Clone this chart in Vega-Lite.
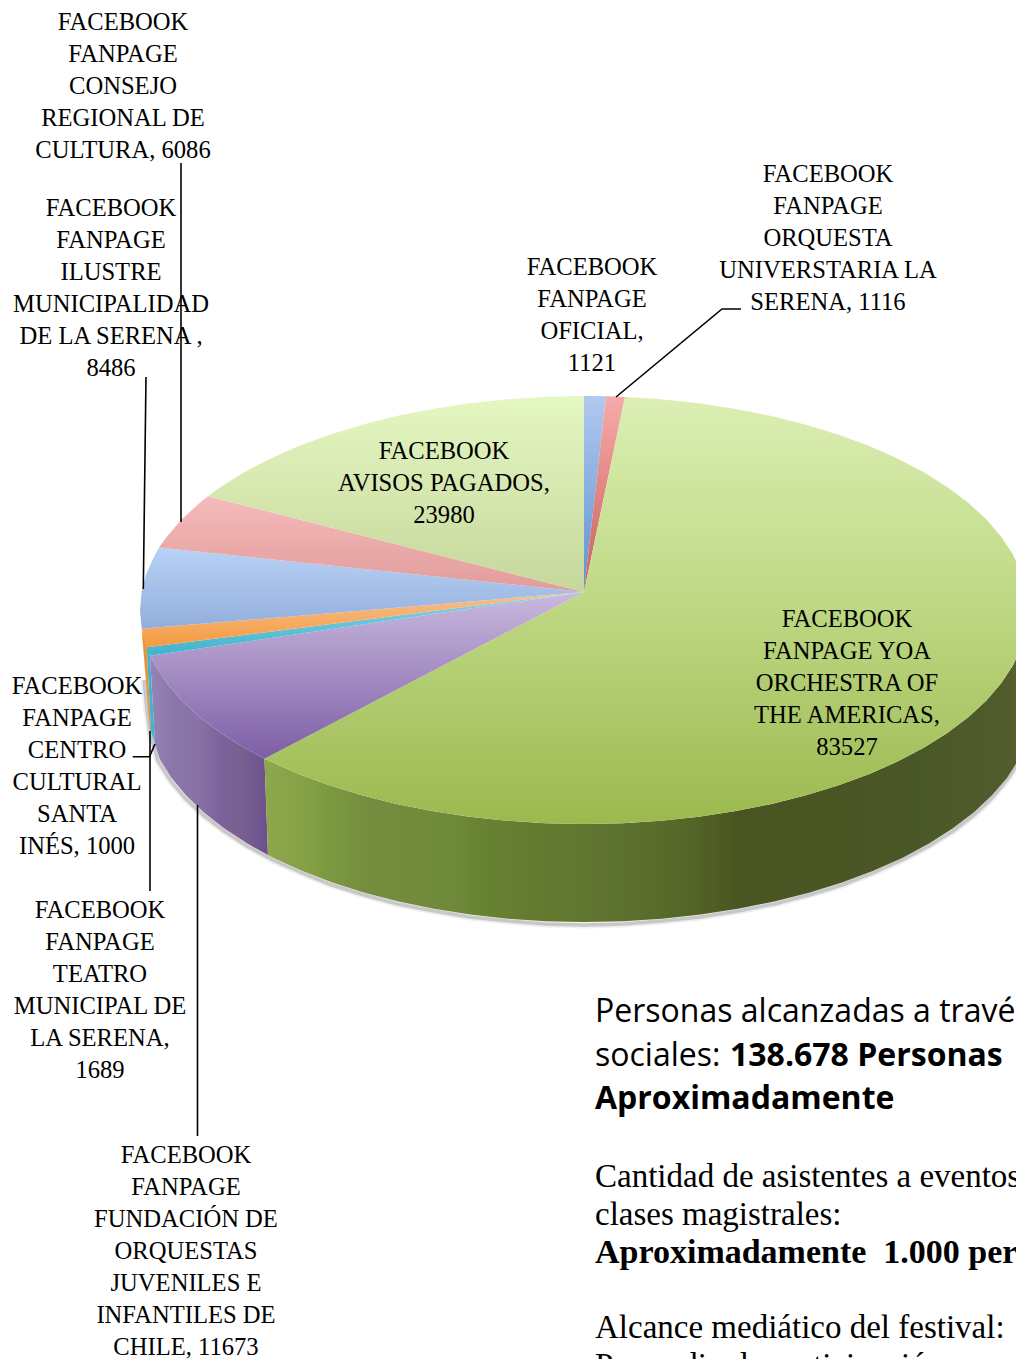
{
"$schema":"https://vega.github.io/schema/vega-lite/v6.json",
"width":1016,"height":1359,"autosize":{"type":"none"},"padding":0,"background":"white",
"view":{"stroke":null},
"projection":{"type":"identity","scale":1,"translate":[0,0]},
"datasets":{
"piezas":[
{"type":"Feature","properties":{"pieza":"lado naranja"},"geometry":{"type":"Polygon","coordinates":[[[141.7,630],[146.7,646],[151,731],[150,730],[141.7,630]]]}},
{"type":"Feature","properties":{"pieza":"lado turquesa"},"geometry":{"type":"Polygon","coordinates":[[[146.7,646],[150,655.7],[155,744],[151,731],[146.7,646]]]}},
{"type":"Feature","properties":{"pieza":"lado morado"},"geometry":{"type":"Polygon","coordinates":[[[150,655.7],[155.1,665.4],[166.8,683.2],[181.6,700.4],[199.5,717],[220.3,732.8],[243.9,747.6],[264.5,758.7],[268,855],[247.7,843.8],[224.4,828.6],[203.8,812.5],[186.1,795.6],[171.5,777.9],[160,759.7],[155,744],[150,655.7]]]}},
{"type":"Feature","properties":{"pieza":"lado verde"},"geometry":{"type":"Polygon","coordinates":[[[1028,610],[1026.3,628.7],[1021.3,647.2],[1012.9,665.4],[1001.2,683.2],[986.4,700.4],[968.5,717],[947.7,732.8],[924.1,747.6],[898,761.3],[869.4,773.9],[838.7,785.3],[806,795.3],[771.6,803.9],[735.8,811.1],[698.9,816.7],[661.1,820.7],[622.7,823.2],[584,824],[545.3,823.2],[506.9,820.7],[469.1,816.7],[432.2,811.1],[396.4,803.9],[362,795.3],[329.3,785.3],[298.6,773.9],[270,761.3],[264.5,758.7],[268,855],[273.6,857.9],[301.8,870.8],[332.2,882.4],[364.5,892.7],[398.5,901.5],[433.9,908.8],[470.4,914.5],[507.8,918.7],[545.7,921.2],[584,922],[623.2,921.2],[662.1,918.7],[700.5,914.5],[737.9,908.8],[774.2,901.5],[809,892.7],[842.1,882.4],[873.3,870.8],[902.2,857.9],[928.7,843.8],[952.6,828.6],[973.7,812.5],[991.8,795.6],[1006.9,777.9],[1018.7,759.7],[1027.2,741],[1032.3,722.1],[1034,703],[1028,610]]]}},
{"type":"Feature","properties":{"pieza":"OFICIAL","valor":1121},"geometry":{"type":"Polygon","coordinates":[[[584,592],[584,396],[595,396.1],[606,396.3],[584,592]]]}},
{"type":"Feature","properties":{"pieza":"ORQUESTA UNIVERSITARIA","valor":1116},"geometry":{"type":"Polygon","coordinates":[[[584,592],[606,396.3],[615,396.5],[625,396.9],[584,592]]]}},
{"type":"Feature","properties":{"pieza":"YOA","valor":83527},"geometry":{"type":"Polygon","coordinates":[[[584,592],[625,396.9],[661.1,399.3],[698.9,403.3],[735.8,408.9],[771.6,416.1],[806,424.7],[838.7,434.7],[869.4,446.1],[898,458.7],[924.1,472.4],[947.7,487.2],[968.5,503],[986.4,519.6],[1001.2,536.8],[1012.9,554.6],[1021.3,572.8],[1026.3,591.3],[1028,610],[1026.3,628.7],[1021.3,647.2],[1012.9,665.4],[1001.2,683.2],[986.4,700.4],[968.5,717],[947.7,732.8],[924.1,747.6],[898,761.3],[869.4,773.9],[838.7,785.3],[806,795.3],[771.6,803.9],[735.8,811.1],[698.9,816.7],[661.1,820.7],[622.7,823.2],[584,824],[545.3,823.2],[506.9,820.7],[469.1,816.7],[432.2,811.1],[396.4,803.9],[362,795.3],[329.3,785.3],[298.6,773.9],[270,761.3],[264.5,758.7],[584,592]]]}},
{"type":"Feature","properties":{"pieza":"FUNDACION","valor":11673},"geometry":{"type":"Polygon","coordinates":[[[584,592],[264.5,758.7],[243.9,747.6],[220.3,732.8],[199.5,717],[181.6,700.4],[166.8,683.2],[155.1,665.4],[150,655.7],[584,592]]]}},
{"type":"Feature","properties":{"pieza":"TEATRO","valor":1689},"geometry":{"type":"Polygon","coordinates":[[[584,592],[150,655.7],[146.7,647.2],[584,592]]]}},
{"type":"Feature","properties":{"pieza":"SANTA INES","valor":1000},"geometry":{"type":"Polygon","coordinates":[[[584,592],[146.7,647.2],[143.7,638],[141.7,628.7],[584,592]]]}},
{"type":"Feature","properties":{"pieza":"ILUSTRE","valor":8486},"geometry":{"type":"Polygon","coordinates":[[[584,592],[141.7,628.7],[140,610],[141.7,591.3],[146.7,572.8],[155.1,554.6],[159,547.5],[584,592]]]}},
{"type":"Feature","properties":{"pieza":"CONSEJO","valor":6086},"geometry":{"type":"Polygon","coordinates":[[[584,592],[159,547.5],[166.8,536.8],[181.6,519.6],[199.5,503],[208,496.2],[584,592]]]}},
{"type":"Feature","properties":{"pieza":"AVISOS","valor":23980},"geometry":{"type":"Polygon","coordinates":[[[584,592],[208,496.2],[220.3,487.2],[243.9,472.4],[270,458.7],[298.6,446.1],[329.3,434.7],[362,424.7],[396.4,416.1],[432.2,408.9],[469.1,403.3],[506.9,399.3],[545.3,396.8],[584,396],[584,592]]]}}
],
"sombra":[
{"type":"Feature","properties":{"n":"sombra"},"geometry":{"type":"LineString","coordinates":[[144,680],[147,710],[150,733],[158,761],[170,780],[185,798],[203,815],[224,831],[247,846],[273,860],[302,873],[332,885],[364,895],[398,904],[434,911],[470,917],[508,921],[546,924],[584,925],[623,924],[662,921],[700,917],[738,911],[774,904],[809,895],[842,885],[873,873],[902,860],[929,846],[953,831],[974,815],[992,798],[1007,780],[1019,762]]}}
],
"guias":[
{"type":"Feature","properties":{"n":"consejo"},"geometry":{"type":"LineString","coordinates":[[181,163],[181,522]]}},
{"type":"Feature","properties":{"n":"ilustre"},"geometry":{"type":"LineString","coordinates":[[146,377],[143.3,589]]}},
{"type":"Feature","properties":{"n":"santa"},"geometry":{"type":"LineString","coordinates":[[132.7,756.7],[149.5,756.7],[155,744]]}},
{"type":"Feature","properties":{"n":"teatro"},"geometry":{"type":"LineString","coordinates":[[150,891],[150,731]]}},
{"type":"Feature","properties":{"n":"fundacion"},"geometry":{"type":"LineString","coordinates":[[197.5,1136],[197.5,805]]}},
{"type":"Feature","properties":{"n":"orquesta"},"geometry":{"type":"LineString","coordinates":[[741,309],[722,309],[616,397]]}}
],
"etiquetas":[
{"t":"FACEBOOK\nFANPAGE\nCONSEJO\nREGIONAL DE\nCULTURA, 6086","a":123,"b":23},
{"t":"FACEBOOK\nFANPAGE\nILUSTRE\nMUNICIPALIDAD\nDE LA SERENA ,\n8486","a":111,"b":209},
{"t":"FACEBOOK\nFANPAGE\nOFICIAL,\n1121","a":592,"b":268},
{"t":"FACEBOOK\nFANPAGE\nORQUESTA\nUNIVERSTARIA LA\nSERENA, 1116","a":828,"b":175},
{"t":"FACEBOOK\nAVISOS PAGADOS,\n23980","a":444,"b":452},
{"t":"FACEBOOK\nFANPAGE YOA\nORCHESTRA OF\nTHE AMERICAS,\n83527","a":847,"b":620},
{"t":"FACEBOOK\nFANPAGE\nCENTRO\nCULTURAL\nSANTA\nINÉS, 1000","a":77,"b":687},
{"t":"FACEBOOK\nFANPAGE\nTEATRO\nMUNICIPAL DE\nLA SERENA,\n1689","a":100,"b":911},
{"t":"FACEBOOK\nFANPAGE\nFUNDACIÓN DE\nORQUESTAS\nJUVENILES E\nINFANTILES DE\nCHILE, 11673","a":186,"b":1156}
]
},
"layer":[
{"data":{"name":"sombra"},"mark":{"type":"geoshape","filled":false,"stroke":"#808080","strokeWidth":7,"opacity":0.12},"encoding":{}},
{"data":{"name":"sombra"},"mark":{"type":"geoshape","filled":false,"stroke":"#707070","strokeWidth":3.5,"opacity":0.3},"encoding":{}},
{"data":{"name":"piezas"},"transform":[{"filter":"datum.properties.pieza==='lado naranja'"}],"mark":{"type":"geoshape","strokeWidth":0,"fill":"#ed9136"},"encoding":{}},
{"data":{"name":"piezas"},"transform":[{"filter":"datum.properties.pieza==='lado turquesa'"}],"mark":{"type":"geoshape","strokeWidth":0,"fill":"#3fb4d0"},"encoding":{}},
{"data":{"name":"piezas"},"transform":[{"filter":"datum.properties.pieza==='lado morado'"}],"mark":{"type":"geoshape","strokeWidth":0,"fill":{"gradient":"linear","x1":0,"y1":0,"x2":1,"y2":0,"stops":[{"offset":0,"color":"#9684b6"},{"offset":0.2,"color":"#8a76a9"},{"offset":0.4,"color":"#8a72a6"},{"offset":0.6,"color":"#7c629b"},{"offset":0.8,"color":"#77608f"},{"offset":1,"color":"#6b4f8e"}]}},"encoding":{}},
{"data":{"name":"piezas"},"transform":[{"filter":"datum.properties.pieza==='lado verde'"}],"mark":{"type":"geoshape","strokeWidth":0,"fill":{"gradient":"linear","x1":0,"y1":0,"x2":1,"y2":0,"stops":[{"offset":0,"color":"#8ea74c"},{"offset":0.06,"color":"#83a045"},{"offset":0.08,"color":"#7b9a40"},{"offset":0.14,"color":"#748c3e"},{"offset":0.24,"color":"#6f8a3a"},{"offset":0.28,"color":"#678232"},{"offset":0.36,"color":"#647a30"},{"offset":0.46,"color":"#5e7230"},{"offset":0.54,"color":"#566828"},{"offset":0.6,"color":"#4c5a22"},{"offset":0.62,"color":"#485421"},{"offset":0.85,"color":"#4a5726"},{"offset":0.96,"color":"#505c2b"},{"offset":1,"color":"#5c6434"}]}},"encoding":{}},
{"data":{"name":"piezas"},"transform":[{"filter":"datum.properties.pieza==='OFICIAL'"}],"mark":{"type":"geoshape","strokeWidth":0,"fill":{"gradient":"linear","x1":0,"y1":0,"x2":0,"y2":1,"stops":[{"offset":0,"color":"#b0c9f0"},{"offset":1,"color":"#5f92cf"}]}},"encoding":{}},
{"data":{"name":"piezas"},"transform":[{"filter":"datum.properties.pieza==='ORQUESTA UNIVERSITARIA'"}],"mark":{"type":"geoshape","strokeWidth":0,"fill":{"gradient":"linear","x1":0,"y1":0,"x2":0,"y2":1,"stops":[{"offset":0,"color":"#f6abaa"},{"offset":1,"color":"#c95f5c"}]}},"encoding":{}},
{"data":{"name":"piezas"},"transform":[{"filter":"datum.properties.pieza==='YOA'"}],"mark":{"type":"geoshape","strokeWidth":0,"fill":{"gradient":"linear","x1":0,"y1":0,"x2":0,"y2":1,"stops":[{"offset":0,"color":"#dcefb4"},{"offset":0.5,"color":"#bdd782"},{"offset":1,"color":"#9cb94f"}]}},"encoding":{}},
{"data":{"name":"piezas"},"transform":[{"filter":"datum.properties.pieza==='FUNDACION'"}],"mark":{"type":"geoshape","strokeWidth":0,"fill":{"gradient":"linear","x1":0,"y1":0,"x2":0,"y2":1,"stops":[{"offset":0,"color":"#c9b9df"},{"offset":1,"color":"#7d5ea5"}]}},"encoding":{}},
{"data":{"name":"piezas"},"transform":[{"filter":"datum.properties.pieza==='TEATRO'"}],"mark":{"type":"geoshape","strokeWidth":0,"fill":{"gradient":"linear","x1":0,"y1":0,"x2":0,"y2":1,"stops":[{"offset":0,"color":"#93d4e6"},{"offset":1,"color":"#3fb2cc"}]}},"encoding":{}},
{"data":{"name":"piezas"},"transform":[{"filter":"datum.properties.pieza==='SANTA INES'"}],"mark":{"type":"geoshape","strokeWidth":0,"fill":{"gradient":"linear","x1":0,"y1":0,"x2":0,"y2":1,"stops":[{"offset":0,"color":"#f6c08e"},{"offset":1,"color":"#f59a3e"}]}},"encoding":{}},
{"data":{"name":"piezas"},"transform":[{"filter":"datum.properties.pieza==='ILUSTRE'"}],"mark":{"type":"geoshape","strokeWidth":0,"fill":{"gradient":"linear","x1":0,"y1":0,"x2":0,"y2":1,"stops":[{"offset":0,"color":"#b9d2f6"},{"offset":1,"color":"#92aedb"}]}},"encoding":{}},
{"data":{"name":"piezas"},"transform":[{"filter":"datum.properties.pieza==='CONSEJO'"}],"mark":{"type":"geoshape","strokeWidth":0,"fill":{"gradient":"linear","x1":0,"y1":0,"x2":0,"y2":1,"stops":[{"offset":0,"color":"#f6baba"},{"offset":1,"color":"#e09c9b"}]}},"encoding":{}},
{"data":{"name":"piezas"},"transform":[{"filter":"datum.properties.pieza==='AVISOS'"}],"mark":{"type":"geoshape","strokeWidth":0,"fill":{"gradient":"linear","x1":0,"y1":0,"x2":0,"y2":1,"stops":[{"offset":0,"color":"#e5f7c2"},{"offset":1,"color":"#c6d79c"}]}},"encoding":{}},
{"data":{"name":"guias"},"mark":{"type":"geoshape","filled":false,"stroke":"black","strokeWidth":1.6},"encoding":{}},
{"data":{"name":"etiquetas"},"mark":{"type":"text","font":"Liberation Serif","fontSize":24.6,"lineHeight":32,"lineBreak":"\n","align":"center","baseline":"middle","color":"black"},
"encoding":{"longitude":{"field":"a","type":"quantitative"},"latitude":{"field":"b","type":"quantitative"},"text":{"field":"t"}}},
{"data":{"values":[{"t":"Personas alcanzadas a través de redes","a":595,"b":1012},{"t":"sociales:","a":595,"b":1056}]},"mark":{"type":"text","font":"Open Sans","fontSize":32,"align":"left","baseline":"middle","color":"black"},
"encoding":{"longitude":{"field":"a","type":"quantitative"},"latitude":{"field":"b","type":"quantitative"},"text":{"field":"t"}}},
{"data":{"values":[{"t":"138.678 Personas","a":730,"b":1056},{"t":"Aproximadamente","a":595,"b":1099}]},"mark":{"type":"text","font":"Open Sans","fontSize":32,"fontWeight":"bold","align":"left","baseline":"middle","color":"black"},
"encoding":{"longitude":{"field":"a","type":"quantitative"},"latitude":{"field":"b","type":"quantitative"},"text":{"field":"t"}}},
{"data":{"values":[{"t":"Cantidad de asistentes a eventos y","a":595,"b":1177},{"t":"clases magistrales:","a":595,"b":1215},{"t":"Alcance mediático del festival:","a":595,"b":1328},{"t":"Promedio de participación por evento","a":595,"b":1366}]},"mark":{"type":"text","font":"Liberation Serif","fontSize":33,"align":"left","baseline":"middle","color":"black"},
"encoding":{"longitude":{"field":"a","type":"quantitative"},"latitude":{"field":"b","type":"quantitative"},"text":{"field":"t"}}},
{"data":{"values":[{"t":"Aproximadamente\u00a0 1.000 personas","a":595,"b":1253}]},"mark":{"type":"text","font":"Liberation Serif","fontSize":34,"fontWeight":"bold","align":"left","baseline":"middle","color":"black"},
"encoding":{"longitude":{"field":"a","type":"quantitative"},"latitude":{"field":"b","type":"quantitative"},"text":{"field":"t"}}}
]
}
